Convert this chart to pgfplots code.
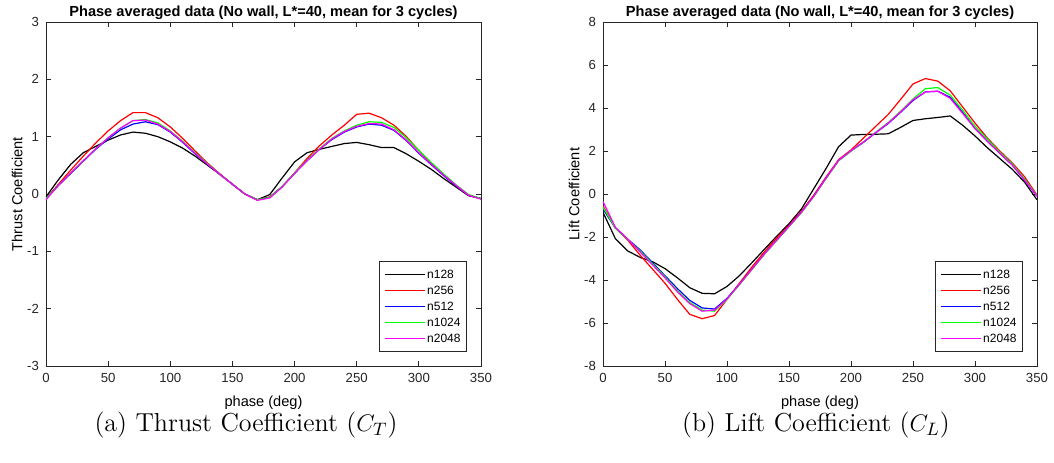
\documentclass[border=0pt]{standalone}
\usepackage{fontspec}
\usepackage{pgfplots}
\usepackage{pgfplotstable}
\pgfplotsset{compat=1.18}
\newfontfamily\arial{Liberation Sans}
\definecolor{axgray}{gray}{0.15}
\definecolor{cK}{rgb}{0,0,0}
\definecolor{cR}{rgb}{1,0,0}
\definecolor{cB}{rgb}{0,0,1}
\definecolor{cG}{rgb}{0,1,0}
\definecolor{cM}{rgb}{1,0,1}

\pgfplotstableread{
x n128 n256 n512 n1024 n2048
0 -0.05 -0.08 -0.08 -0.08 -0.10
10 0.25 0.17 0.15 0.15 0.15
20 0.52 0.42 0.36 0.37 0.37
30 0.72 0.66 0.57 0.58 0.58
40 0.83 0.89 0.78 0.79 0.79
50 0.94 1.10 0.96 0.98 0.98
60 1.03 1.28 1.12 1.15 1.15
70 1.08 1.42 1.22 1.28 1.28
80 1.06 1.42 1.26 1.30 1.29
90 1.00 1.33 1.21 1.24 1.22
100 0.91 1.17 1.08 1.10 1.09
110 0.80 0.97 0.90 0.92 0.91
120 0.66 0.75 0.70 0.72 0.71
130 0.50 0.54 0.52 0.53 0.52
140 0.34 0.35 0.34 0.34 0.34
150 0.17 0.17 0.17 0.17 0.17
160 0.00 0.00 0.00 0.00 0.00
170 -0.10 -0.10 -0.10 -0.10 -0.11
180 -0.01 -0.05 -0.06 -0.06 -0.07
190 0.28 0.13 0.13 0.13 0.12
200 0.56 0.37 0.36 0.37 0.36
210 0.72 0.62 0.58 0.59 0.58
220 0.78 0.84 0.78 0.79 0.78
230 0.83 1.03 0.95 0.97 0.96
240 0.88 1.20 1.08 1.10 1.09
250 0.90 1.39 1.17 1.20 1.18
260 0.86 1.41 1.22 1.26 1.23
270 0.81 1.33 1.20 1.25 1.22
280 0.81 1.20 1.11 1.16 1.12
290 0.70 1.00 0.93 0.98 0.94
300 0.57 0.76 0.71 0.76 0.72
310 0.43 0.53 0.51 0.55 0.52
320 0.27 0.33 0.32 0.35 0.33
330 0.12 0.14 0.14 0.16 0.15
340 -0.03 -0.02 -0.02 -0.01 -0.02
350 -0.08 -0.08 -0.08 -0.08 -0.09
}\thrust

\pgfplotstableread{
x n128 n256 n512 n1024 n2048
0 -0.85 -0.55 -0.70 -0.62 -0.35
10 -2.08 -1.58 -1.58 -1.58 -1.55
20 -2.65 -2.15 -2.10 -2.12 -2.10
30 -2.95 -2.85 -2.60 -2.65 -2.70
40 -3.15 -3.50 -3.20 -3.25 -3.30
50 -3.47 -4.15 -3.80 -3.85 -3.90
60 -3.90 -4.90 -4.40 -4.50 -4.55
70 -4.36 -5.60 -4.95 -5.05 -5.10
80 -4.62 -5.80 -5.30 -5.40 -5.45
90 -4.64 -5.65 -5.35 -5.45 -5.40
100 -4.30 -4.90 -4.85 -4.90 -4.88
110 -3.80 -4.15 -4.20 -4.22 -4.20
120 -3.20 -3.40 -3.50 -3.52 -3.50
130 -2.58 -2.70 -2.80 -2.82 -2.80
140 -1.97 -2.05 -2.15 -2.17 -2.15
150 -1.38 -1.45 -1.50 -1.52 -1.50
160 -0.70 -0.80 -0.85 -0.87 -0.85
170 0.25 -0.05 -0.10 -0.12 -0.10
180 1.20 0.80 0.75 0.73 0.75
190 2.20 1.60 1.55 1.55 1.57
200 2.74 2.05 2.00 2.00 2.02
210 2.77 2.60 2.40 2.42 2.42
220 2.78 3.15 2.85 2.88 2.86
230 2.80 3.70 3.28 3.32 3.30
240 3.10 4.40 3.80 3.85 3.82
250 3.42 5.12 4.35 4.42 4.38
260 3.50 5.37 4.75 4.90 4.75
270 3.56 5.25 4.78 4.95 4.78
280 3.63 4.80 4.50 4.60 4.45
290 3.20 4.05 3.80 3.90 3.75
300 2.70 3.30 3.05 3.15 3.05
310 2.15 2.60 2.45 2.55 2.45
320 1.65 2.00 1.90 1.95 1.90
330 1.15 1.45 1.35 1.40 1.35
340 0.55 0.80 0.65 0.70 0.65
350 -0.27 -0.05 -0.10 -0.08 -0.10
}\lift

\pgfplotsset{
  mystyle/.style={
    scale only axis,
    width=217.5pt, height=172pt,
    xmin=0, xmax=350,
    xtick={0,50,...,350},
    axis line style={axgray, line width=0.4pt},
    tick style={axgray, line width=0.4pt},
    major tick length=2.5pt,
    tick align=inside,
    /pgf/number format/assume math mode=true,
    ticklabel style={font=\arial\fontsize{6.6}{7.5}\selectfont, text=axgray},
    label style={font=\arial\fontsize{7.3}{8.5}\selectfont, text=black},
    ylabel shift=-4.5pt,
    every axis title shift=0pt,
    title style={font=\arial\bfseries\fontsize{7.3}{8.5}\selectfont, at={(0.5,1)}, anchor=base, inner sep=0pt, yshift=3pt},
    title={Phase averaged data (No wall, L*=40, mean for 3 cycles)},
    xlabel={phase (deg)},
    legend style={font=\arial\fontsize{6}{7}\selectfont, draw=axgray, line width=0.4pt,
      at={(1,0)}, anchor=south east, xshift=-7pt, yshift=7pt,
      inner xsep=2pt, inner ysep=2.5pt, row sep=0pt,
      nodes={inner sep=1pt, text height=5pt, text depth=1pt},
      cells={anchor=west}},
    legend image code/.code={\draw[#1, line width=0.7pt] (0pt,0pt) -- (20pt,0pt);},
    every axis plot/.append style={line width=0.6pt, mark=none},
  }
}

\begin{document}
\begin{tikzpicture}
\path[use as bounding box] (0,0) rectangle (527pt,231pt);

\begin{axis}[mystyle, at={(23pt,48pt)}, anchor=south west,
  ymin=-3, ymax=3, ytick={-3,-2,...,3},
  ylabel={Thrust Coefficient}]
\addplot[cK] table[x=x, y=n128] {\thrust};
\addplot[cR] table[x=x, y=n256] {\thrust};
\addplot[cB] table[x=x, y=n512] {\thrust};
\addplot[cG] table[x=x, y=n1024] {\thrust};
\addplot[cM] table[x=x, y=n2048] {\thrust};
\legend{n128,n256,n512,n1024,n2048}
\end{axis}

\begin{axis}[mystyle, at={(301.5pt,48pt)}, anchor=south west, width=217pt,
  ymin=-8, ymax=8, ytick={-8,-6,...,8},
  ylabel={Lift Coefficient}]
\addplot[cK] table[x=x, y=n128] {\lift};
\addplot[cR] table[x=x, y=n256] {\lift};
\addplot[cB] table[x=x, y=n512] {\lift};
\addplot[cG] table[x=x, y=n1024] {\lift};
\addplot[cM] table[x=x, y=n2048] {\lift};
\legend{n128,n256,n512,n1024,n2048}
\end{axis}

\node[font=\fontsize{13}{15}\selectfont] at (123pt,18.5pt) {(a) Thrust Coefficient ($C_T$)};
\node[font=\fontsize{13}{15}\selectfont] at (408pt,18.5pt) {(b) Lift Coefficient ($C_L$)};
\end{tikzpicture}
\end{document}
